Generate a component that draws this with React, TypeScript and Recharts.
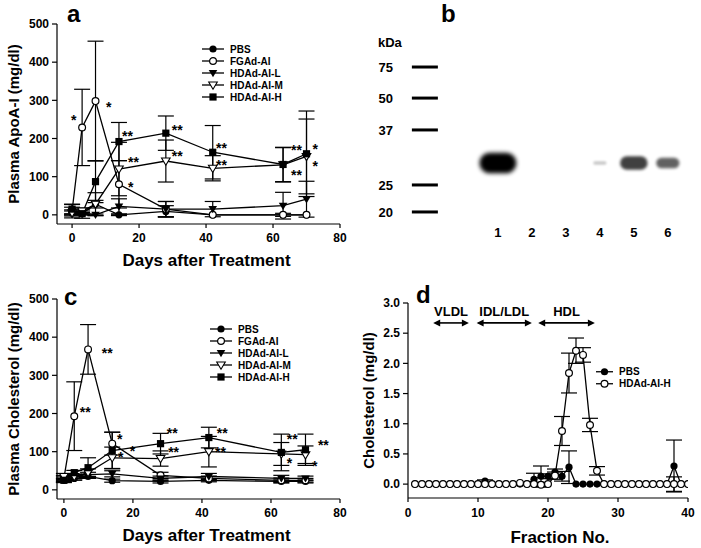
import React from "react";
import {
  ComposedChart,
  Line,
  Scatter,
  XAxis,
  YAxis,
  ErrorBar,
  ReferenceDot,
  ReferenceLine,
  Legend,
  Label,
} from "recharts";

const FONT = '"Liberation Sans", Arial, Helvetica, sans-serif';

// ---- a: plasma apoA-I after injection (mg/dl)
const days = [0, 3, 7, 14, 28, 42, 63, 70];
const apoPbs = [5, 3, 28, 0, 9, 0, 0, 0];
const apoPbsErr = [5, 3, 10, 2, 15, 0, 0, 0];
const apoFgad = [10, 229, 298, 80, 15, 0, 0, 0];
const apoFgadErr = [18, 100, 157, 62, 20, 0, 4, 0];
const apoLow = [10, 5, 0, 22, 15, 15, 24, 41];
const apoLowErr = [10, 5, 2, 20, 20, 20, 35, 47];
const apoMid = [5, 10, 28, 120, 141, 122, 131, 153];
const apoMidErr = [8, 8, 30, 70, 55, 33, 45, 98];
const apoHigh = [15, 3, 87, 192, 214, 164, 132, 160];
const apoHighErr = [12, 12, 55, 50, 45, 70, 45, 112];

// significance marks for a: day, level, text
const apoStarDay = [-0.3, 10.1, 14.9, 16.7, 16.7, 29.8, 29.8, 43, 43, 65.4, 71.8, 71.8, 65.4];
const apoStarVal = [254, 288, 212, 144, 79, 228, 160, 180, 137, 175, 177, 133, 110];
const apoStarText = ["*", "*", "**", "**", "*", "**", "**", "**", "**", "**", "*", "*", "**"];

// ---- c: plasma cholesterol (mg/dl)
const cholPbs = [25, 30, 35, 24, 22, 25, 22, 22];
const cholPbsErr = [5, 5, 5, 4, 4, 4, 4, 4];
const cholFgad = [30, 193, 368, 121, 38, 30, 25, 25];
const cholFgadErr = [8, 90, 65, 30, 8, 6, 6, 5];
const cholLow = [30, 35, 40, 42, 30, 35, 30, 30];
const cholLowErr = [6, 6, 6, 8, 6, 8, 8, 6];
const cholMid = [35, 35, 45, 84, 82, 100, 94, 92];
const cholMidErr = [8, 6, 10, 28, 20, 40, 30, 23];
const cholHigh = [25, 45, 58, 103, 121, 137, 98, 105];
const cholHighErr = [6, 6, 26, 48, 27, 27, 48, 41];

const cholStarDay = [11, 4.6, 15.4, 19.1, 15.7, 29.8, 30.2, 44.3, 43.8, 64.6, 73.6, 64.6, 71.9];
const cholStarVal = [363, 208, 139, 108, 92, 153, 105, 153, 105, 139, 124, 76, 68];
const cholStarText = ["**", "**", "*", "*", "*", "**", "**", "**", "**", "**", "**", "*", "*"];

// ---- b: western blot
const ladderKda = [75, 50, 37, 25, 20];
const ladderRf = [0.207, 0.36, 0.517, 0.788, 0.921];
const lanes = [1, 2, 3, 4, 5, 6];
const bandSignal = [1.0, 0, 0, 0.05, 0.62, 0.45];
const apoaiRf = 0.68;

// ---- d: FPLC cholesterol profile (mg/dl)
const fractions = Array.from({ length: 40 }, (_, i) => i + 1);
const fplcPbs = [
  0, 0, 0, 0, 0, 0, 0, 0, 0, 0,
  0.05, 0, 0, 0, 0, 0, 0, 0.08, 0.13, 0.13,
  0.2, 0.13, 0.28, 0, 0, 0, 0, 0, 0, 0,
  0, 0, 0, 0, 0, 0, 0, 0.3, 0, 0,
];
const fplcPbsErr = [
  0, 0, 0, 0, 0, 0, 0, 0, 0, 0,
  0.02, 0, 0, 0, 0, 0, 0, 0.1, 0.17, 0.04,
  0.05, 0.08, 0.27, 0, 0, 0, 0, 0, 0, 0,
  0, 0, 0, 0, 0, 0, 0, 0.43, 0, 0,
];
const fplcHigh = [
  0, 0, 0, 0, 0, 0, 0, 0, 0, 0,
  0, 0, 0, 0, 0, 0.02, 0, 0, -0.01, 0,
  0.14, 0.88, 1.84, 2.21, 2.14, 0.98, 0.22, 0, 0, 0,
  0, 0, 0, 0, 0, 0, 0, 0, 0, 0,
];
const fplcHighErr = [
  0, 0, 0, 0, 0, 0, 0, 0, 0, 0,
  0, 0, 0, 0, 0, 0, 0, 0, 0.04, 0,
  0.06, 0.24, 0.33, 0.21, 0.12, 0.11, 0.07, 0, 0, 0,
  0, 0, 0, 0, 0, 0, 0, 0.12, 0, 0,
];
const regionName = ["VLDL", "IDL/LDL", "HDL"];
const regionFrom = [3.6, 9.8, 18.6];
const regionTo = [8.7, 17.7, 26.7];

const groups = [
  { key: "pbs", name: "PBS", marker: "dot" },
  { key: "fgad", name: "FGAd-AI", marker: "ring" },
  { key: "low", name: "HDAd-AI-L", marker: "tri" },
  { key: "mid", name: "HDAd-AI-M", marker: "openTri" },
  { key: "high", name: "HDAd-AI-H", marker: "square" },
];
const fplcGroups = [
  { key: "pbs", name: "PBS", marker: "dot" },
  { key: "high", name: "HDAd-AI-H", marker: "ring" },
];

const apoRows = days.map((day, i) => ({
  day,
  pbs: apoPbs[i], pbsErr: apoPbsErr[i],
  fgad: apoFgad[i], fgadErr: apoFgadErr[i],
  low: apoLow[i], lowErr: apoLowErr[i],
  mid: apoMid[i], midErr: apoMidErr[i],
  high: apoHigh[i], highErr: apoHighErr[i],
}));
const cholRows = days.map((day, i) => ({
  day,
  pbs: cholPbs[i], pbsErr: cholPbsErr[i],
  fgad: cholFgad[i], fgadErr: cholFgadErr[i],
  low: cholLow[i], lowErr: cholLowErr[i],
  mid: cholMid[i], midErr: cholMidErr[i],
  high: cholHigh[i], highErr: cholHighErr[i],
}));
const fplcRows = fractions.map((f, i) => ({
  f,
  pbs: fplcPbs[i], pbsErr: fplcPbsErr[i],
  high: fplcHigh[i], highErr: fplcHighErr[i],
}));

const tickStyle = { fill: "#000", fontSize: 12, fontWeight: "bold", fontFamily: FONT };
const titleStyle = { fill: "#000", fontWeight: "bold", fontFamily: FONT };

function Marker({ kind, cx, cy }: any) {
  if (cx == null || cy == null) return null;
  if (kind === "dot") return <circle cx={cx} cy={cy} r={3.6} fill="#000" />;
  if (kind === "ring")
    return <circle cx={cx} cy={cy} r={3.4} fill="#fff" stroke="#000" strokeWidth={1.2} />;
  if (kind === "square")
    return <rect x={cx - 3.6} y={cy - 3.6} width={7.2} height={7.2} fill="#000" />;
  const d = `M${cx - 4.3},${cy - 3} L${cx + 4.3},${cy - 3} L${cx},${cy + 4.2} Z`;
  if (kind === "tri") return <path d={d} fill="#000" />;
  return <path d={d} fill="#fff" stroke="#000" strokeWidth={1.1} />;
}

function LegendBox({ items, lineLen, rowH }: any) {
  return (
    <div style={{ fontFamily: FONT, fontWeight: "bold", fontSize: 10, color: "#000" }}>
      {items.map((it: any) => (
        <div key={it.name} style={{ display: "flex", alignItems: "center", height: rowH }}>
          <svg width={lineLen} height={rowH} style={{ display: "block" }}>
            <line x1={0} x2={lineLen} y1={rowH / 2} y2={rowH / 2} stroke="#000" strokeWidth={1.3} />
            <Marker kind={it.marker} cx={lineLen / 2} cy={rowH / 2} />
          </svg>
          <span style={{ marginLeft: 6 }}>{it.name}</span>
        </div>
      ))}
    </div>
  );
}

function yTitle(text: string, dx: number, dy = 0) {
  return (props: any) => {
    const vb = props.viewBox;
    if (!vb) return null;
    return (
      <text
        transform={`translate(${vb.x + dx}, ${vb.y + vb.height / 2 + dy}) rotate(-90)`}
        textAnchor="middle"
        dominantBaseline="central"
        style={{ ...titleStyle, fontSize: 15 }}
      >
        {text}
      </text>
    );
  };
}

function xTitle(text: string, dy: number, dx = 0) {
  return (props: any) => {
    const vb = props.viewBox;
    if (!vb) return null;
    return (
      <text
        x={vb.x + vb.width / 2 + dx}
        y={vb.y + dy}
        textAnchor="middle"
        dominantBaseline="central"
        style={{ ...titleStyle, fontSize: 17 }}
      >
        {text}
      </text>
    );
  };
}

function starShape(text: string) {
  return (p: any) => (
    <text x={p.cx} y={p.cy + 7} textAnchor="start" style={{ fill: "#000", fontSize: 14, fontWeight: "bold", fontFamily: FONT }}>
      {text}
    </text>
  );
}

function seriesLines(list: any[]) {
  return list.map((g) => (
    <Line
      key={g.key}
      dataKey={g.key}
      name={g.name}
      stroke="#000"
      strokeWidth={1.3}
      activeDot={false}
      isAnimationActive={false}
      dot={(p: any) => <Marker key={`${g.key}-${p.index}`} kind={g.marker} cx={p.cx} cy={p.cy} />}
    >
      <ErrorBar dataKey={`${g.key}Err`} width={8} stroke="#000" strokeWidth={1.2} direction="y" isAnimationActive={false} />
    </Line>
  ));
}

function TimeCourse({ rows, yText, starDay, starVal, starText, top, legendTop, legendLeft, xMin, height }: any) {
  return (
    <ComposedChart width={350} height={height} data={rows} margin={{ top, right: 10, bottom: height - top - 200 - 40, left: 0 }}>
      <XAxis
        dataKey="day"
        type="number"
        domain={[xMin, 80]}
        ticks={[0, 20, 40, 60, 80]}
        allowDataOverflow
        height={40}
        stroke="#000"
        strokeWidth={1.2}
        tickSize={4}
        tickMargin={5}
        tick={tickStyle}
      >
        <Label content={xTitle("Days after Treatment", 36, 8)} />
      </XAxis>
      <YAxis
        type="number"
        domain={[-24, 500]}
        ticks={[0, 100, 200, 300, 400, 500]}
        allowDataOverflow
        width={57}
        stroke="#000"
        strokeWidth={1.2}
        tickSize={5}
        tickMargin={3}
        tick={tickStyle}
      >
        <Label content={yTitle(yText, 13)} />
      </YAxis>
      {seriesLines(groups)}
      {starDay.map((d: number, i: number) => (
        <ReferenceDot key={i} x={d} y={starVal[i]} r={0} ifOverflow="visible" shape={starShape(starText[i])} />
      ))}
      <Legend
        layout="vertical"
        align="center"
        verticalAlign="middle"
        wrapperStyle={{ left: legendLeft, top: legendTop, width: "auto" }}
        content={() => <LegendBox items={groups} lineLen={22} rowH={12} />}
      />
    </ComposedChart>
  );
}

function Band(p: any) {
  const { cx, cy, payload } = p;
  if (cx == null || cy == null) return null;
  const s = payload.s;
  const w = 12 + 25 * s;
  const h = 2.5 + 18 * s;
  const id = `band-blur-${payload.lane}`;
  return (
    <g>
      <defs>
        <filter id={id} x="-50%" y="-80%" width="200%" height="260%">
          <feGaussianBlur stdDeviation={1 + 1.2 * s} />
        </filter>
      </defs>
      <rect
        x={cx - w / 2}
        y={cy - h / 2}
        width={w}
        height={h}
        rx={h / 2}
        fill="#000"
        opacity={0.1 + 0.9 * Math.pow(s, 0.7)}
        filter={`url(#${id})`}
      />
    </g>
  );
}

function LadderMark(p: any) {
  if (p.cx == null || p.cy == null) return null;
  return <rect x={p.cx - 13} y={p.cy - 1.5} width={26} height={3} fill="#000" />;
}

const LADDER_LANE = -1.15;

function Blot() {
  const ladder = ladderRf.map((rf) => ({ lane: LADDER_LANE, rf }));
  const bands = lanes
    .map((lane, i) => ({ lane, rf: apoaiRf, s: bandSignal[i] }))
    .filter((b) => b.s > 0);
  return (
    <ComposedChart width={351} height={270} margin={{ top: 25, right: 6, bottom: 12, left: 0 }}>
      <XAxis
        dataKey="lane"
        type="number"
        domain={[-2, 6.8]}
        ticks={lanes}
        height={30}
        axisLine={false}
        tickLine={false}
        tickSize={0}
        tickMargin={0}
        tick={{ ...tickStyle, fontSize: 13 }}
      />
      <YAxis
        dataKey="rf"
        type="number"
        domain={[0, 1]}
        reversed
        ticks={ladderRf}
        tickFormatter={(v: number) => String(ladderKda[ladderRf.indexOf(v)] ?? "")}
        width={46}
        axisLine={false}
        tickLine={false}
        tickSize={0}
        tickMargin={3}
        tick={{ ...tickStyle, fontSize: 13 }}
      >
        <Label
          content={() => (
            <text x={28} y={47} style={{ ...tickStyle, fontSize: 13 }}>
              kDa
            </text>
          )}
        />
      </YAxis>
      <Scatter data={ladder} shape={LadderMark} isAnimationActive={false} />
      <Scatter data={bands} shape={Band} isAnimationActive={false} />
    </ComposedChart>
  );
}

function ArrowShape(p: any) {
  const { x1, y1, x2, y2 } = p;
  if (x1 == null) return null;
  const hl = 7;
  const hw = 3.5;
  return (
    <g>
      <line x1={x1 + 2} y1={y1} x2={x2 - 2} y2={y2} stroke="#000" strokeWidth={1.6} />
      <path d={`M${x1},${y1} L${x1 + hl},${y1 - hw} L${x1 + hl},${y1 + hw} Z`} fill="#000" />
      <path d={`M${x2},${y2} L${x2 - hl},${y2 - hw} L${x2 - hl},${y2 + hw} Z`} fill="#000" />
    </g>
  );
}

function Fplc() {
  return (
    <ComposedChart width={351} height={278} data={fplcRows} margin={{ top: 33, right: 13, bottom: 10, left: 0 }}>
      <XAxis
        dataKey="f"
        type="number"
        domain={[0, 40]}
        ticks={[0, 10, 20, 30, 40]}
        allowDataOverflow
        height={40}
        stroke="#000"
        strokeWidth={1.2}
        tickSize={4}
        tickMargin={6}
        tick={tickStyle}
      >
        <Label content={xTitle("Fraction No.", 39, 12)} />
      </XAxis>
      <YAxis
        type="number"
        domain={[-0.23, 3]}
        ticks={[0, 0.5, 1, 1.5, 2, 2.5, 3]}
        tickFormatter={(v: number) => v.toFixed(1)}
        allowDataOverflow
        width={58}
        stroke="#000"
        strokeWidth={1.2}
        tickSize={5}
        tickMargin={3}
        tick={tickStyle}
      >
        <Label content={yTitle("Cholesterol (mg/dl)", 18)} />
      </YAxis>
      {seriesLines(fplcGroups)}
      {regionName.map((name, i) => (
        <ReferenceLine
          key={`arrow-${name}`}
          segment={[
            { x: regionFrom[i], y: 2.67 },
            { x: regionTo[i], y: 2.67 },
          ]}
          ifOverflow="visible"
          shape={ArrowShape}
        />
      ))}
      {regionName.map((name, i) => (
        <ReferenceDot
          key={`lbl-${name}`}
          x={(regionFrom[i] + regionTo[i]) / 2}
          y={2.86}
          r={0}
          ifOverflow="visible"
          shape={(p: any) => (
            <text x={p.cx} y={p.cy} textAnchor="middle" dominantBaseline="central" style={{ ...tickStyle, fontSize: 13 }}>
              {name}
            </text>
          )}
        />
      ))}
      <Legend
        layout="vertical"
        align="center"
        verticalAlign="middle"
        wrapperStyle={{ left: 246, top: 96, width: "auto" }}
        content={() => <LegendBox items={fplcGroups} lineLen={17} rowH={11.5} />}
      />
    </ComposedChart>
  );
}

function PanelLetter({ x, y, text }: any) {
  return (
    <div style={{ position: "absolute", left: x, top: y, fontSize: 24, lineHeight: 1, fontWeight: "bold", fontFamily: FONT, color: "#000" }}>
      {text}
    </div>
  );
}

export default function App() {
  return (
    <div style={{ position: "absolute", left: 0, top: 0, width: 701, height: 548, background: "#fff", overflow: "hidden" }}>
      <div style={{ position: "absolute", left: 0, top: 0 }}>
        <TimeCourse
          rows={apoRows}
          yText="Plasma ApoA-I (mg/dl)"
          starDay={apoStarDay}
          starVal={apoStarVal}
          starText={apoStarText}
          top={24}
          height={270}
          xMin={-4.5}
          legendLeft={202}
          legendTop={43}
        />
      </div>
      <div style={{ position: "absolute", left: 350, top: 0 }}>
        <Blot />
      </div>
      <div style={{ position: "absolute", left: 0, top: 270 }}>
        <TimeCourse
          rows={cholRows}
          yText="Plasma Cholesterol (mg/dl)"
          starDay={cholStarDay}
          starVal={cholStarVal}
          starText={cholStarText}
          top={29}
          height={278}
          xMin={-2}
          legendLeft={210}
          legendTop={53}
        />
      </div>
      <div style={{ position: "absolute", left: 350, top: 270 }}>
        <Fplc />
      </div>
      <PanelLetter x={67} y={2} text="a" />
      <PanelLetter x={441} y={2} text="b" />
      <PanelLetter x={64} y={285} text="c" />
      <PanelLetter x={416} y={283} text="d" />
    </div>
  );
}
